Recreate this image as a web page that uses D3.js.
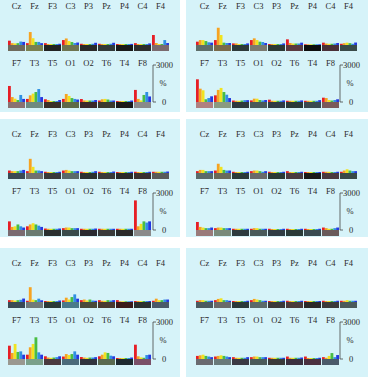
<!DOCTYPE html>
<html>
<head>
<meta charset="utf-8">
<script src="https://cdn.jsdelivr.net/npm/d3@7"></script>
<style>
  body { margin: 0; background: #fff; }
  svg { display: block; }
  text { font-family: "Liberation Serif", serif; fill: #2a2a2a; }
</style>
</head>
<body>
<div id="chart"></div>
<script>
// channel names for the two rows of every panel
const topChannels = ["Cz", "Fz", "F3", "C3", "P3", "Pz", "P4", "C4", "F4"];
const bottomChannels = ["F7", "T3", "T5", "O1", "O2", "T6", "T4", "F8"];
const bands = ["delta", "theta", "alpha1", "alpha2", "beta1", "beta2"];
const bandColors = ["#e61e26", "#f6a322", "#f1e31f", "#49bd43", "#2f8fe2", "#2437e0"];
const scaleTicks = ["3000", "%", "0"];

// values in % (one row of six bands per channel)
const panelA_top = [[350,150,130,150,280,250],[150,1050,550,250,250,150],[150,80,80,80,80,100],[400,530,320,240,160,200],[100,80,80,80,100,180],[100,80,80,80,100,180],[80,80,80,80,80,90],[150,80,80,80,80,130],[810,160,80,80,400,160]];
const panelA_bottom = [[1300,400,270,160,570,250],[250,540,680,810,1050,400],[220,160,80,80,80,160],[250,650,490,320,250,200],[240,130,120,120,120,160],[120,220,250,200,120,120],[80,80,80,80,80,120],[980,250,130,570,810,450]];
const panelB_top = [[270,400,400,320,220,190],[400,1400,810,190,160,160],[130,130,80,80,80,130],[400,540,400,270,240,160],[80,80,80,80,80,130],[460,160,120,120,120,190],[60,60,60,60,60,60],[190,120,100,100,120,160],[100,150,190,150,100,200]];
const panelB_bottom = [[1840,1080,950,220,320,460],[540,980,1140,810,590,320],[120,100,100,120,150,150],[130,270,270,160,130,160],[190,100,100,100,100,130],[100,100,100,100,100,130],[100,100,100,100,100,150],[350,320,160,120,160,220]];
const panelC_top = [[200,150,150,150,200,250],[150,1150,500,200,200,150],[100,80,80,80,80,100],[200,250,200,150,150,150],[100,80,80,80,100,150],[100,80,80,80,80,120],[80,80,80,80,80,100],[100,80,80,80,80,100],[100,100,100,100,100,120]];
const panelC_bottom = [[700,250,300,450,300,200],[300,450,550,450,350,250],[120,100,100,100,100,120],[150,200,200,150,150,150],[100,100,100,100,100,120],[100,100,100,100,100,100],[100,100,100,100,100,100],[2400,300,500,700,600,700]];
const panelD_top = [[150,250,250,150,150,150],[200,750,500,250,200,200],[100,80,80,80,80,100],[150,200,200,150,100,150],[100,80,80,80,80,100],[150,80,80,80,80,100],[80,80,80,80,80,80],[100,100,100,80,80,100],[100,200,300,200,150,150]];
const panelD_bottom = [[650,250,200,150,150,200],[150,200,200,150,150,150],[100,100,100,100,100,100],[100,150,150,100,100,100],[100,80,80,80,80,100],[100,80,80,80,80,100],[100,80,80,80,80,100],[200,150,100,100,150,200]];
const panelE_top = [[150,150,120,150,180,280],[100,1200,190,150,270,140],[80,80,80,80,80,120],[130,350,200,400,620,270],[150,200,130,200,120,100],[150,100,100,150,120,150],[150,60,60,60,60,60],[80,80,80,80,80,80],[100,270,150,150,200,200]];
const panelE_bottom = [[1080,490,1220,570,620,350],[350,950,1220,1760,540,350],[220,120,100,120,150,220],[200,400,320,400,620,350],[160,120,100,120,120,150],[220,350,540,490,270,220],[80,80,80,80,80,120],[1160,220,130,100,320,350]];
const panelF_top = [[100,150,150,100,100,100],[150,250,300,150,150,100],[80,80,80,80,80,100],[150,250,200,150,100,100],[80,80,80,80,80,100],[100,80,80,80,80,100],[80,80,80,80,80,80],[100,80,80,80,80,100],[100,100,150,100,100,100]];
const panelF_bottom = [[250,300,350,250,200,150],[200,250,300,250,200,150],[150,100,100,100,100,150],[150,200,200,150,150,150],[100,100,100,100,100,100],[200,100,100,100,100,120],[200,80,80,80,80,100],[150,100,250,480,150,320]];

// colour of the base strip under each channel
const stripA_top = ["#6e6a5c","#7a8050","#232323","#6e7450","#2a2a2a","#333a3a","#1a1a1a","#2e2e2e","#7a6a6e"];
const stripA_bottom = ["#8a7272","#6e8a80","#3a3028","#5e6a48","#3a2a2a","#3a3a2e","#1a1a1a","#8a8a8a"];
const stripB_top = ["#5e6e6a","#7a6a4a","#2e3a3a","#7a7a70","#2e3a36","#5a3a40","#0e0e0e","#4a3038","#3a4a48"];
const stripB_bottom = ["#b08080","#8a9a80","#2e3a3e","#4a5a5a","#303c44","#2a3a38","#3a4a50","#7a5a5a"];
const stripC_top = ["#3a4a55","#707070","#3a3a3a","#5a6a6a","#2a3030","#3a3a3a","#2a2a2a","#3a3030","#5a5a5a"];
const stripC_bottom = ["#7a6a70","#6a7a70","#2a3030","#3a4a4a","#2a2a30","#3a3a3a","#2a2a2a","#8a8a8a"];
const stripD_top = ["#5a6a6a","#6a6a5a","#2a3a3a","#6a6a6a","#2a3a36","#4a3a40","#1a1a1a","#4a3a40","#3a4a48"];
const stripD_bottom = ["#9a7a7a","#7a8a7a","#2e3a3e","#4a5a5a","#303c44","#2a3a38","#3a4a50","#6a5a5a"];
const stripE_top = ["#3a4a55","#707a7a","#2a3a38","#4a7a8a","#4a4a3a","#4a3a30","#3a1a1a","#2a3030","#4a5a6a"];
const stripE_bottom = ["#9a9890","#7aa08a","#4a3a40","#4a6a7a","#30343e","#5a6a50","#1e2a30","#7a5068"];
const stripF_top = ["#4a5a60","#6a6a6a","#2a3a3a","#5a6a6a","#3a3a3a","#4a3a3a","#2a2a2a","#3a3a3a","#4a5a5a"];
const stripF_bottom = ["#6a6a70","#6a7a7a","#3a3a44","#4a5a5a","#3a3a3a","#3a3040","#4a3040","#4a5a6a"];

const panels = [
  { top: panelA_top, bottom: panelA_bottom, sTop: stripA_top, sBottom: stripA_bottom },
  { top: panelB_top, bottom: panelB_bottom, sTop: stripB_top, sBottom: stripB_bottom },
  { top: panelC_top, bottom: panelC_bottom, sTop: stripC_top, sBottom: stripC_bottom },
  { top: panelD_top, bottom: panelD_bottom, sTop: stripD_top, sBottom: stripD_bottom },
  { top: panelE_top, bottom: panelE_bottom, sTop: stripE_top, sBottom: stripE_bottom },
  { top: panelF_top, bottom: panelF_bottom, sTop: stripF_top, sBottom: stripF_bottom }
];

const width = 368, height = 377;
const colX = [0, 186];
const colW = [180, 182];
const rowY = [-9, 119, 248];
const rowH = [121, 118, 129];

const svg = d3.select("#chart").append("svg")
  .attr("width", width).attr("height", height);

// bar heights: 3000 % = 37 px
const yScale = d3.scaleLinear().domain([0, 3000]).range([0, 37]);
const pitch = 18, groupW = 17, stripH = 6;

const bandX = d3.scaleBand().domain(bands).range([0, groupW]).padding(0);

panels.forEach((p, i) => {
  const col = i % 2, row = Math.floor(i / 2);
  const px = colX[col], py = rowY[row];
  const g = svg.append("g").attr("transform", `translate(${px},${py})`);

  g.append("rect")
    .attr("width", colW[col]).attr("height", rowH[row])
    .attr("fill", "#d6f3f9");

  const gx0 = col === 0 ? 8 : 10;
  const xTop = d3.scalePoint().domain(topChannels).range([gx0, gx0 + pitch * 8]);
  const xBottom = d3.scalePoint().domain(bottomChannels).range([gx0, gx0 + pitch * 7]);

  const rows = [
    { names: topChannels, vals: p.top, strips: p.sTop, x: xTop, labelY: 18, base: 54 },
    { names: bottomChannels, vals: p.bottom, strips: p.sBottom, x: xBottom, labelY: 75, base: 111 }
  ];

  rows.forEach(r => {
    g.selectAll(null)
      .data(r.names)
      .join("text")
      .attr("x", d => r.x(d) + groupW / 2)
      .attr("y", r.labelY)
      .attr("text-anchor", "middle")
      .attr("font-size", "8.5px")
      .text(d => d);

    const grp = g.selectAll(null)
      .data(r.names)
      .join("g")
      .attr("transform", d => `translate(${r.x(d)},0)`);

    grp.append("rect")
      .attr("y", r.base)
      .attr("width", groupW)
      .attr("height", stripH)
      .attr("fill", (d, j) => r.strips[j]);

    grp.selectAll("rect.bar")
      .data((d, j) => r.vals[j].map((v, k) => ({ band: bands[k], v: v })))
      .join("rect")
      .attr("class", "bar")
      .attr("x", d => bandX(d.band))
      .attr("width", bandX.bandwidth())
      .attr("y", d => r.base - yScale(d.v))
      .attr("height", d => yScale(d.v))
      .attr("fill", (d, k) => bandColors[k]);
  });

  // percent scale bracket
  const sx = col === 0 ? 153 : 154;
  const base = 111;
  const axisG = g.append("g").attr("transform", `translate(${sx},0)`);
  axisG.append("path")
    .attr("d", `M3,${base - yScale(3000)}H0V${base}H3`)
    .attr("fill", "none").attr("stroke", "#444").attr("stroke-width", 0.8);
  axisG.append("text").attr("x", 3).attr("y", base - yScale(3000) + 3)
    .attr("font-size", "8.5px").text(scaleTicks[0]);
  axisG.append("text").attr("x", 10).attr("y", base - yScale(1500) + 2)
    .attr("font-size", "8.5px").attr("text-anchor", "middle").text(scaleTicks[1]);
  axisG.append("text").attr("x", 11).attr("y", base + 3)
    .attr("font-size", "8.5px").attr("text-anchor", "middle").text(scaleTicks[2]);
});
</script>
</body>
</html>
